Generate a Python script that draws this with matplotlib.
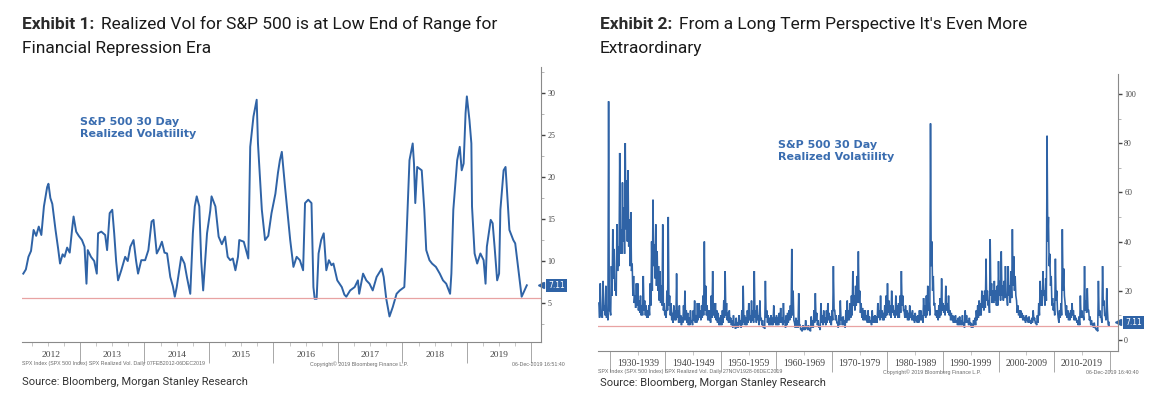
import numpy as np
import matplotlib
matplotlib.use("Agg")
import matplotlib.pyplot as plt
from matplotlib.transforms import blended_transform_factory
from matplotlib.ticker import MultipleLocator, FixedLocator

# ---- Exhibit 1: SPX 30 day realized vol, Feb 2012 - Dec 2019 (decimal years)
recent_t = [
    2012.12, 2012.16, 2012.20, 2012.24, 2012.28, 2012.32, 2012.36, 2012.40, 2012.44, 2012.49,
    2012.51, 2012.54, 2012.57, 2012.62, 2012.66, 2012.69, 2012.73, 2012.76, 2012.80, 2012.84,
    2012.88, 2012.90, 2012.94, 2012.98, 2013.03, 2013.07, 2013.10, 2013.12, 2013.17, 2013.22,
    2013.26, 2013.28, 2013.33, 2013.39, 2013.42, 2013.46, 2013.50, 2013.53, 2013.56, 2013.59,
    2013.64, 2013.70, 2013.74, 2013.78, 2013.83, 2013.87, 2013.90, 2013.95, 2014.01, 2014.06,
    2014.11, 2014.14, 2014.19, 2014.23, 2014.27, 2014.31, 2014.35, 2014.40, 2014.44, 2014.47,
    2014.50, 2014.54, 2014.57, 2014.62, 2014.66, 2014.71, 2014.75, 2014.78, 2014.81, 2014.85,
    2014.88, 2014.91, 2014.95, 2014.97, 2015.02, 2015.04, 2015.10, 2015.15, 2015.20, 2015.25,
    2015.29, 2015.33, 2015.37, 2015.41, 2015.45, 2015.47, 2015.54, 2015.61, 2015.64, 2015.69,
    2015.74, 2015.76, 2015.82, 2015.87, 2015.92, 2015.97, 2016.03, 2016.07, 2016.10, 2016.13,
    2016.16, 2016.18, 2016.23, 2016.26, 2016.31, 2016.36, 2016.41, 2016.46, 2016.49, 2016.54,
    2016.59, 2016.62, 2016.64, 2016.67, 2016.70, 2016.74, 2016.78, 2016.82, 2016.86, 2016.90,
    2016.93, 2016.99, 2017.06, 2017.10, 2017.13, 2017.19, 2017.26, 2017.31, 2017.33, 2017.39,
    2017.44, 2017.49, 2017.54, 2017.60, 2017.68, 2017.71, 2017.75, 2017.80, 2017.85, 2017.91,
    2017.96, 2018.03, 2018.05, 2018.08, 2018.11, 2018.16, 2018.18, 2018.20, 2018.23, 2018.30,
    2018.34, 2018.37, 2018.42, 2018.46, 2018.52, 2018.58, 2018.63, 2018.68, 2018.74, 2018.76,
    2018.79, 2018.85, 2018.89, 2018.92, 2018.95, 2018.98, 2019.00, 2019.04, 2019.07, 2019.08,
    2019.12, 2019.16, 2019.21, 2019.26, 2019.29, 2019.31, 2019.37, 2019.40, 2019.43, 2019.47,
    2019.50, 2019.52, 2019.57, 2019.60, 2019.64, 2019.66, 2019.72, 2019.75, 2019.82, 2019.85,
    2019.93,
]
recent_v = [
    8.5, 9.0, 10.5, 11.2, 13.7, 13.0, 14.1, 13.1, 16.5, 18.8,
    19.2, 17.5, 16.8, 13.7, 11.5, 9.7, 10.8, 10.5, 11.6, 11.0,
    14.0, 15.3, 13.5, 13.0, 12.5, 11.7, 7.3, 11.3, 10.5, 10.0,
    8.5, 13.3, 13.5, 13.1, 11.3, 15.7, 16.1, 13.3, 10.0, 7.7,
    8.9, 10.5, 10.0, 11.7, 12.5, 10.0, 8.5, 10.1, 10.1, 11.3,
    14.7, 14.9, 10.9, 11.5, 12.3, 11.0, 10.9, 8.1, 7.0, 5.75,
    6.9, 9.0, 10.5, 9.7, 8.0, 6.1, 13.3, 16.5, 17.7, 16.5,
    10.0, 6.5, 11.0, 13.3, 16.0, 17.7, 16.5, 12.9, 12.0, 12.9,
    10.5, 10.1, 10.3, 8.9, 10.5, 12.5, 12.3, 10.3, 23.6, 27.2,
    29.2, 24.0, 16.1, 12.5, 13.0, 15.7, 18.0, 20.5, 22.0, 23.0,
    20.5, 18.8, 14.9, 12.5, 9.3, 10.5, 10.1, 8.9, 16.9, 17.3,
    16.9, 6.9, 5.5, 5.5, 10.9, 12.5, 13.3, 8.9, 10.1, 9.5,
    9.7, 7.7, 6.9, 6.0, 5.75, 6.5, 6.9, 7.7, 6.1, 8.5,
    7.7, 7.3, 6.5, 8.1, 9.1, 8.1, 5.5, 3.4, 4.5, 6.1,
    6.5, 6.9, 10.1, 16.1, 22.0, 24.0, 21.6, 16.9, 21.2, 20.8,
    16.1, 11.3, 10.1, 9.7, 9.3, 8.5, 7.7, 7.3, 6.1, 8.5,
    16.1, 22.0, 23.6, 20.8, 21.6, 27.6, 29.6, 26.8, 24.0, 16.5,
    10.9, 9.7, 10.9, 10.1, 7.3, 11.7, 14.9, 14.5, 11.7, 7.7,
    8.5, 16.1, 20.8, 21.2, 16.1, 13.7, 12.5, 12.1, 7.7, 5.75,
    7.11,
]

# ---- Exhibit 2: one row per year from 1928, four quarterly readings each
long_start = 1928
# reading at the start of each quarter
long_q = [
    [15, 23, 10, 24], [14, 22, 12, 97], [12, 30, 45, 37], [23, 47, 38, 76],   # 1928-31
    [45, 64, 54, 80], [65, 69, 49, 52], [31, 26, 18, 23], [23, 16, 18, 14],   # 1932-35
    [26, 16, 14, 12], [14, 23, 40, 57], [39, 47, 36, 30], [28, 22, 47, 15],   # 1936-39
    [12, 20, 50, 18], [15, 11, 14, 12], [27, 12, 14, 10], [9, 14, 20, 12],    # 1940-43
    [11, 9, 12, 8], [12, 16, 10, 15], [15, 12, 14, 18], [40, 22, 14, 12],     # 1944-47
    [12, 18, 28, 15], [15, 12, 11, 9], [10, 12, 16, 28], [15, 11, 12, 9],     # 1948-51
    [8, 10, 6, 9], [7, 10, 8, 12], [22, 10, 9, 12], [15, 10, 16, 12],         # 1952-55
    [28, 12, 14, 10], [16, 9, 8, 5.5], [24, 12, 10, 9], [10, 9, 14, 9],       # 1956-59
    [10, 9, 11, 13], [9, 15, 8, 10], [11, 12, 14, 37], [20, 7, 9, 8],         # 1960-63
    [19, 6, 4.5, 6], [5.5, 8, 5, 6], [4.5, 9.5, 8, 12], [19, 11, 8, 5.5],     # 1964-67
    [15, 10, 12, 9], [12, 15, 11, 9.5], [12, 30, 12, 10], [7, 10, 16, 9],     # 1968-71
    [9.5, 8, 12, 16], [12, 15, 18, 28], [18, 22, 26, 36], [20, 15, 13, 12],   # 1972-75
    [12, 10, 12, 9.5], [8, 12, 9.5, 10], [9.5, 15, 12, 18], [12, 11, 14, 18], # 1976-79
    [23, 16, 14, 20], [14, 12, 18, 14], [15, 18, 28, 18], [12, 14, 12, 11],   # 1980-83
    [14, 11, 12, 10], [11, 9.5, 10, 12], [12, 10, 17, 14], [18, 22, 15, 88],  # 1984-87
    [40, 26, 15, 12], [12, 14, 17, 25], [15, 14, 22, 15], [18, 12, 11, 10],   # 1988-91
    [9.5, 10, 8, 9], [9.5, 8, 10, 7], [12, 10, 8, 9], [7, 6.5, 8, 9],         # 1992-95
    [12, 14, 16, 15], [20, 18, 20, 33], [20, 16, 41, 23], [20, 24, 20, 22],   # 1996-99
    [32, 24, 36, 22], [24, 30, 18, 30], [22, 28, 45, 34], [26, 16, 14, 12],   # 2000-03
    [12, 11, 10, 9], [10, 9, 9.5, 8], [9, 12, 9, 7], [10, 15, 24, 20],        # 2004-07
    [28, 20, 25, 83], [50, 35, 26, 17], [15, 33, 20, 9], [12, 15, 45, 29],    # 2008-11
    [15, 14, 12, 11], [12, 15, 12, 10], [9, 8, 9.5, 18], [12, 10, 30, 16],    # 2012-15
    [21, 12, 9.5, 8], [6.5, 7, 5, 4.5], [24, 12, 9.5, 30], [16, 10, 21, 6.5], # 2016-19
]
# reading in the middle of each quarter (the calmer trough)
long_mid = [
    [9, 10, 9, 12], [10, 9, 8, 12], [10, 18, 25, 20], [18, 28, 30, 35],       # 1928-31
    [35, 40, 35, 45], [40, 38, 30, 28], [18, 15, 13, 14], [12, 11, 10, 10],   # 1932-35
    [12, 10, 9, 9], [10, 14, 20, 30], [25, 22, 20, 16], [15, 14, 12, 10],     # 1936-39
    [9, 12, 14, 10], [8, 7, 8, 8], [9, 7, 7, 6], [7, 8, 8, 7],                # 1940-43
    [6, 6, 7, 6], [8, 7, 7, 8], [9, 8, 9, 10], [12, 10, 8, 8],                # 1944-47
    [7, 9, 10, 9], [8, 7, 6, 6], [6, 7, 9, 10], [8, 7, 7, 6],                 # 1948-51
    [5, 6, 4.5, 5], [5, 6, 5, 6], [7, 6, 6, 7], [8, 7, 8, 7],                 # 1952-55
    [9, 7, 8, 6], [8, 6, 5, 4.5], [9, 7, 6, 6], [6, 6, 7, 6],                 # 1956-59
    [6, 6, 7, 7], [6, 7, 5, 6], [7, 8, 9, 10], [8, 5, 5, 5],                  # 1960-63
    [6, 4, 3.5, 4], [4, 5, 4, 4], [3.5, 5, 5, 7], [8, 6, 5, 4],               # 1964-67
    [7, 6, 7, 6], [7, 8, 7, 6], [8, 12, 8, 7], [5, 6, 8, 6],                  # 1968-71
    [6, 5, 7, 8], [8, 9, 10, 14], [12, 14, 15, 15], [11, 9, 8, 8],            # 1972-75
    [8, 7, 7, 7], [6, 7, 7, 7], [7, 9, 8, 9], [8, 8, 9, 10],                  # 1976-79
    [11, 10, 9, 11], [10, 9, 10, 9], [9, 11, 14, 12], [9, 9, 8, 8],           # 1980-83
    [9, 8, 8, 7], [8, 7, 7, 8], [8, 7, 10, 9], [10, 12, 10, 30],              # 1984-87
    [20, 14, 10, 9], [8, 9, 10, 12], [11, 10, 12, 11], [10, 8, 8, 7],         # 1988-91
    [7, 7, 6, 6], [6, 6, 6, 5], [7, 7, 6, 6], [5, 5, 6, 6],                   # 1992-95
    [8, 9, 10, 10], [13, 12, 13, 16], [14, 11, 18, 15], [15, 16, 14, 14],     # 1996-99
    [18, 16, 18, 16], [17, 18, 14, 18], [15, 17, 22, 20], [18, 11, 10, 9],    # 2000-03
    [9, 8, 8, 7], [8, 7, 7, 6.5], [7, 8, 7, 6], [7, 10, 14, 14],              # 2004-07
    [18, 14, 16, 40], [30, 22, 14, 12], [10, 16, 12, 7], [9, 10, 20, 18],     # 2008-11
    [10, 9, 8, 8], [9, 10, 8, 8], [7, 6, 6, 9], [9, 8, 12, 11],               # 2012-15
    [12, 8, 6, 6], [5, 5, 4, 3.5], [10, 9, 7, 14], [10, 8, 12, 5.5],          # 2016-19
]
last_date = 2019.93
last_value = 7.11
floor_level = 5.6

decade_labels = ["1930-1939", "1940-1949", "1950-1959", "1960-1969", "1970-1979",
                 "1980-1989", "1990-1999", "2000-2009", "2010-2019"]
year_labels = ["2012", "2013", "2014", "2015", "2016", "2017", "2018", "2019"]

LINE = "#2f63a6"
W, H = 1163, 398
TITLE_SIZE = 12.5

fig = plt.figure(figsize=(W / 100, H / 100), dpi=100)


def px_ax(x0, y0, x1, y1):
    return fig.add_axes([x0 / W, 1 - y1 / H, (x1 - x0) / W, (y1 - y0) / H])


def style_axes(ax, major_y, minor_y, sep_x, minor_x):
    for side in ("top", "left"):
        ax.spines[side].set_visible(False)
    for side in ("right", "bottom"):
        ax.spines[side].set_color("#8a8a8a")
        ax.spines[side].set_linewidth(0.8)
    ax.yaxis.tick_right()
    ax.yaxis.set_major_locator(MultipleLocator(major_y))
    ax.yaxis.set_minor_locator(MultipleLocator(minor_y))
    ax.tick_params(axis="y", which="major", length=3, width=1.0, color="#444",
                   labelsize=5.8, labelcolor="#444", pad=1.5)
    ax.tick_params(axis="y", which="minor", length=2, width=0.5, color="#999")
    for lab in ax.get_yticklabels():
        lab.set_family("Liberation Serif")
    ax.xaxis.set_major_locator(FixedLocator(sep_x))
    ax.xaxis.set_minor_locator(FixedLocator(minor_x))
    ax.tick_params(axis="x", which="major", length=15, width=0.6, color="#9a9a9a",
                   labelbottom=False)
    ax.tick_params(axis="x", which="minor", length=3, width=0.5, color="#b0b0b0")


def tag(ax, value):
    tr = blended_transform_factory(ax.transAxes, ax.transData)
    ax.plot([1.0], [value], marker="<", ms=5, color=LINE, transform=tr, clip_on=False)
    ax.annotate(f"{value:.2f}", xy=(1.0, value), xycoords=tr, xytext=(5, 0),
                textcoords="offset points", ha="left", va="center", fontsize=5.5,
                color="white", family="DejaVu Sans",
                bbox=dict(boxstyle="square,pad=0.25", fc=LINE, ec="none"))


def note(ax, x, y):
    ax.text(x, y, "S&P 500 30 Day\nRealized Volatiility", transform=ax.transAxes,
            ha="left", va="top", fontsize=8, fontweight="bold", color="#3a6db0",
            family="DejaVu Sans", linespacing=1.25)


def title(x, bold, rest, line2):
    r = fig.canvas.get_renderer()
    t1 = fig.text(x / W, 1 - 29 / H, bold, fontsize=TITLE_SIZE, fontweight="bold",
                  family="Roboto", color="#2b2b2b", va="baseline")
    bb = t1.get_window_extent(renderer=r)
    fig.text((bb.x1 + 7) / W, 1 - 29 / H, rest, fontsize=TITLE_SIZE, family="Roboto",
             color="#1a1a1a", va="baseline")
    fig.text(x / W, 1 - 53 / H, line2, fontsize=TITLE_SIZE, family="Roboto",
             color="#1a1a1a", va="baseline")


def tiny(x, y, s, ha="left"):
    fig.text(x / W, 1 - y / H, s, fontsize=3.8, family="Liberation Sans",
             color="#6a6a6a", ha=ha, va="center")


# ---------------- Exhibit 1
ax1 = px_ax(22, 67, 541, 342)
ax1.plot(recent_t, recent_v, color=LINE, lw=1.4, solid_joinstyle="round")
ax1.axhline(floor_level, color="#e8a3a3", lw=0.9)
ax1.set_xlim(2012.10, 2020.15)
ax1.set_ylim(0.36, 33.1)
years = np.arange(2013, 2021)
style_axes(ax1, 5, 2.5, years, np.arange(2012.25, 2020.0, 0.25))
lab_tr1 = blended_transform_factory(ax1.transData, ax1.transAxes)
for i, s in enumerate(year_labels):
    xc = 2012.55 if i == 0 else 2012 + i + 0.5
    ax1.text(xc, -13 / 275, s, transform=lab_tr1, ha="center", va="center",
             fontsize=6.8, family="Liberation Serif", color="#444")
tag(ax1, last_value)
note(ax1, (80 - 22) / 519, (342 - 117) / 275)

# ---------------- Exhibit 2
long_v = np.column_stack([np.ravel(long_q), np.ravel(long_mid)]).ravel().astype(float)
long_t = long_start + np.arange(long_v.size) * 0.125
long_t = np.append(long_t, last_date)
long_v = np.append(long_v, last_value)

ax2 = px_ax(598, 74, 1118, 351)
ax2.plot(long_t, long_v, color=LINE, lw=1.15, solid_joinstyle="miter")
ax2.axhline(floor_level, color="#e8a3a3", lw=0.9)
ax2.set_xlim(1927.84, 2021.53)
ax2.set_ylim(-4.5, 108.1)
decades = np.arange(1930, 2030, 10)
style_axes(ax2, 20, 10, decades, np.arange(1935, 2020, 10))
lab_tr2 = blended_transform_factory(ax2.transData, ax2.transAxes)
for i, s in enumerate(decade_labels):
    ax2.text(1935 + 10 * i, -12 / 277, s, transform=lab_tr2, ha="center", va="center",
             fontsize=7, family="Liberation Serif", color="#444")
tag(ax2, last_value)
note(ax2, (778 - 598) / 520, (351 - 140) / 277)

# ---------------- titles, footers, sources
title(22, "Exhibit 1:", "Realized Vol for S&P 500 is at Low End of Range for",
      "Financial Repression Era")
title(600, "Exhibit 2:", "From a Long Term Perspective It's Even More", "Extraordinary")

tiny(22, 364, "SPX Index (SPX 500 Index) SPX Realized Vol. Daily 07FEB2012-06DEC2019")
tiny(310, 364, "Copyright\u00a9 2019 Bloomberg Finance L.P.")
tiny(565, 364, "06-Dec-2019 16:51:40", ha="right")
tiny(598, 372, "SPX Index (SPX 500 Index) SPX Realized Vol. Daily 27NOV1928-06DEC2019")
tiny(883, 372, "Copyright\u00a9 2019 Bloomberg Finance L.P.")
tiny(1139, 372, "06-Dec-2019 16:40:40", ha="right")

fig.text(22 / W, 1 - 382 / H, "Source: Bloomberg, Morgan Stanley Research",
         fontsize=8, family="Roboto", color="#333", va="center")
fig.text(600 / W, 1 - 383 / H, "Source: Bloomberg, Morgan Stanley Research",
         fontsize=8, family="Roboto", color="#333", va="center")

fig.savefig("out.png", dpi=100)
